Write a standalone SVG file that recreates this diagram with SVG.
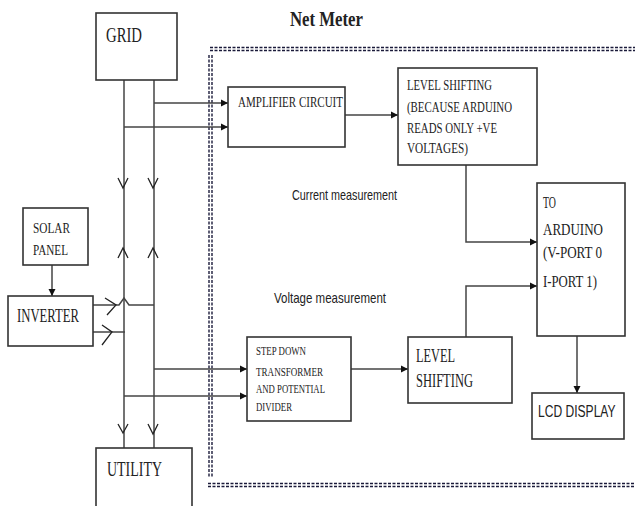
<svg xmlns="http://www.w3.org/2000/svg" width="635" height="506" viewBox="0 0 635 506">
<defs>
<marker id="ah" markerWidth="8" markerHeight="8" refX="7" refY="4" orient="auto" markerUnits="userSpaceOnUse">
<path d="M0,0.5 L7,4 L0,7.5 Z" fill="#111"/>
</marker>
<style>
.box{fill:#fff;stroke:#333;stroke-width:1.6}
.ln{fill:none;stroke:#444;stroke-width:1.5}
.ch{fill:none;stroke:#222;stroke-width:1.3}
.dash{fill:none;stroke:#1a1a3a;stroke-width:1.4;stroke-dasharray:3 1.5}
.s{font-family:"Liberation Serif","Times New Roman",serif;fill:#222}
.ss{font-family:"Liberation Sans",Arial,sans-serif;fill:#222}
</style>
</defs>
<rect width="635" height="506" fill="#fff"/>

<text class="s" x="290" y="26" font-size="21" font-weight="bold" textLength="73" lengthAdjust="spacingAndGlyphs">Net Meter</text>

<g id="frame">
<line class="dash" x1="210" y1="47.5" x2="635" y2="47.5"/>
<line class="dash" x1="210" y1="50.5" x2="635" y2="50.5"/>
<line class="dash" x1="209" y1="55" x2="209" y2="478"/>
<line class="dash" x1="212" y1="55" x2="212" y2="478"/>
<line class="dash" x1="208" y1="483.5" x2="635" y2="483.5"/>
<line class="dash" x1="208" y1="486.5" x2="635" y2="486.5"/>
</g>

<g id="connectors">
<line class="ln" x1="124" y1="80" x2="124" y2="448"/>
<line class="ln" x1="154" y1="80" x2="154" y2="448"/>
<line class="ln" x1="154" y1="103" x2="228" y2="103" marker-end="url(#ah)"/>
<line class="ln" x1="124" y1="127" x2="228" y2="127" marker-end="url(#ah)"/>
<line class="ln" x1="154" y1="369" x2="247" y2="369" marker-end="url(#ah)"/>
<line class="ln" x1="124" y1="396" x2="247" y2="396" marker-end="url(#ah)"/>
<line class="ln" x1="345" y1="115" x2="398" y2="115" marker-end="url(#ah)"/>
<polyline class="ln" points="466,165 466,242 537,242" marker-end="url(#ah)"/>
<polyline class="ln" points="466,337 466,286 537,286" marker-end="url(#ah)"/>
<line class="ln" x1="351" y1="369" x2="408" y2="369" marker-end="url(#ah)"/>
<line class="ln" x1="577" y1="336" x2="577" y2="393" marker-end="url(#ah)"/>
<line class="ln" x1="52" y1="265" x2="52" y2="296" marker-end="url(#ah)"/>
<path class="ln" d="M93,305 L119,305 L124,298 L129,305 L154,305"/>
<line class="ln" x1="93" y1="332" x2="125" y2="332"/>
<path class="ch" d="M105,298 L116,305 L107,315"/>
<path class="ch" d="M102,325 L112,332 L102,345"/>
<path class="ch" d="M118,178 L123,188 L128,178"/>
<path class="ch" d="M148,178 L153,188 L158,178"/>
<path class="ch" d="M118,258 L123,248 L128,258"/>
<path class="ch" d="M148,258 L153,248 L158,258"/>
<path class="ch" d="M118,424 L123,433 L128,424"/>
<path class="ch" d="M148,424 L153,434 L158,424"/>
</g>

<g id="grid">
<rect class="box" x="96" y="13" width="81" height="67"/>
<text class="s" x="106" y="42" font-size="21" textLength="36" lengthAdjust="spacingAndGlyphs">GRID</text>
</g>

<g id="solar">
<rect class="box" x="23" y="208" width="65" height="57"/>
<text class="s" x="33" y="233" font-size="15" textLength="37" lengthAdjust="spacingAndGlyphs">SOLAR</text>
<text class="s" x="33" y="255" font-size="15" textLength="35" lengthAdjust="spacingAndGlyphs">PANEL</text>
</g>

<g id="inverter">
<rect class="box" x="8" y="296" width="85" height="50"/>
<text class="s" x="17" y="322" font-size="19" textLength="62" lengthAdjust="spacingAndGlyphs">INVERTER</text>
</g>

<g id="utility">
<rect class="box" x="96" y="448" width="96" height="70"/>
<text class="s" x="107" y="476" font-size="21" textLength="55" lengthAdjust="spacingAndGlyphs">UTILITY</text>
</g>

<g id="amplifier">
<rect class="box" x="228" y="87" width="117" height="60"/>
<text class="s" x="238" y="107" font-size="14" textLength="105" lengthAdjust="spacingAndGlyphs">AMPLIFIER CIRCUIT</text>
</g>

<g id="levelshift1">
<rect class="box" x="398" y="68" width="139" height="97"/>
<text class="s" x="407" y="90" font-size="15" textLength="85" lengthAdjust="spacingAndGlyphs">LEVEL SHIFTING</text>
<text class="s" x="407" y="112" font-size="15" textLength="105" lengthAdjust="spacingAndGlyphs">(BECAUSE ARDUINO</text>
<text class="s" x="407" y="133" font-size="15" textLength="90" lengthAdjust="spacingAndGlyphs">READS ONLY +VE</text>
<text class="s" x="407" y="153" font-size="15" textLength="61" lengthAdjust="spacingAndGlyphs">VOLTAGES)</text>
</g>

<g id="arduino">
<rect class="box" x="537" y="183" width="88" height="153"/>
<text class="s" x="543" y="208" font-size="16" textLength="13" lengthAdjust="spacingAndGlyphs">TO</text>
<text class="s" x="543" y="235" font-size="16" textLength="60" lengthAdjust="spacingAndGlyphs">ARDUINO</text>
<text class="s" x="543" y="258" font-size="16" textLength="59" lengthAdjust="spacingAndGlyphs">(V-PORT 0</text>
<text class="s" x="543" y="287" font-size="16" textLength="54" lengthAdjust="spacingAndGlyphs">I-PORT 1)</text>
</g>

<text class="ss" x="292" y="200" font-size="15" textLength="105" lengthAdjust="spacingAndGlyphs">Current measurement</text>
<text class="ss" x="274" y="303" font-size="15" textLength="112" lengthAdjust="spacingAndGlyphs">Voltage measurement</text>

<g id="stepdown">
<rect class="box" x="247" y="337" width="104" height="84"/>
<text class="s" x="256" y="355" font-size="12" textLength="50" lengthAdjust="spacingAndGlyphs">STEP DOWN</text>
<text class="s" x="256" y="376" font-size="12" textLength="67" lengthAdjust="spacingAndGlyphs">TRANSFORMER</text>
<text class="s" x="256" y="393" font-size="12" textLength="69" lengthAdjust="spacingAndGlyphs">AND POTENTIAL</text>
<text class="s" x="256" y="411" font-size="12" textLength="36" lengthAdjust="spacingAndGlyphs">DIVIDER</text>
</g>

<g id="levelshift2">
<rect class="box" x="408" y="337" width="104" height="66"/>
<text class="s" x="416" y="362" font-size="19" textLength="39" lengthAdjust="spacingAndGlyphs">LEVEL</text>
<text class="s" x="416" y="387" font-size="19" textLength="57" lengthAdjust="spacingAndGlyphs">SHIFTING</text>
</g>

<g id="lcd">
<rect class="box" x="532" y="393" width="92" height="46"/>
<text class="ss" transform="translate(538,417) scale(0.71,1)" x="0" y="0" font-size="17">LCD DISPLAY</text>
</g>
</svg>
